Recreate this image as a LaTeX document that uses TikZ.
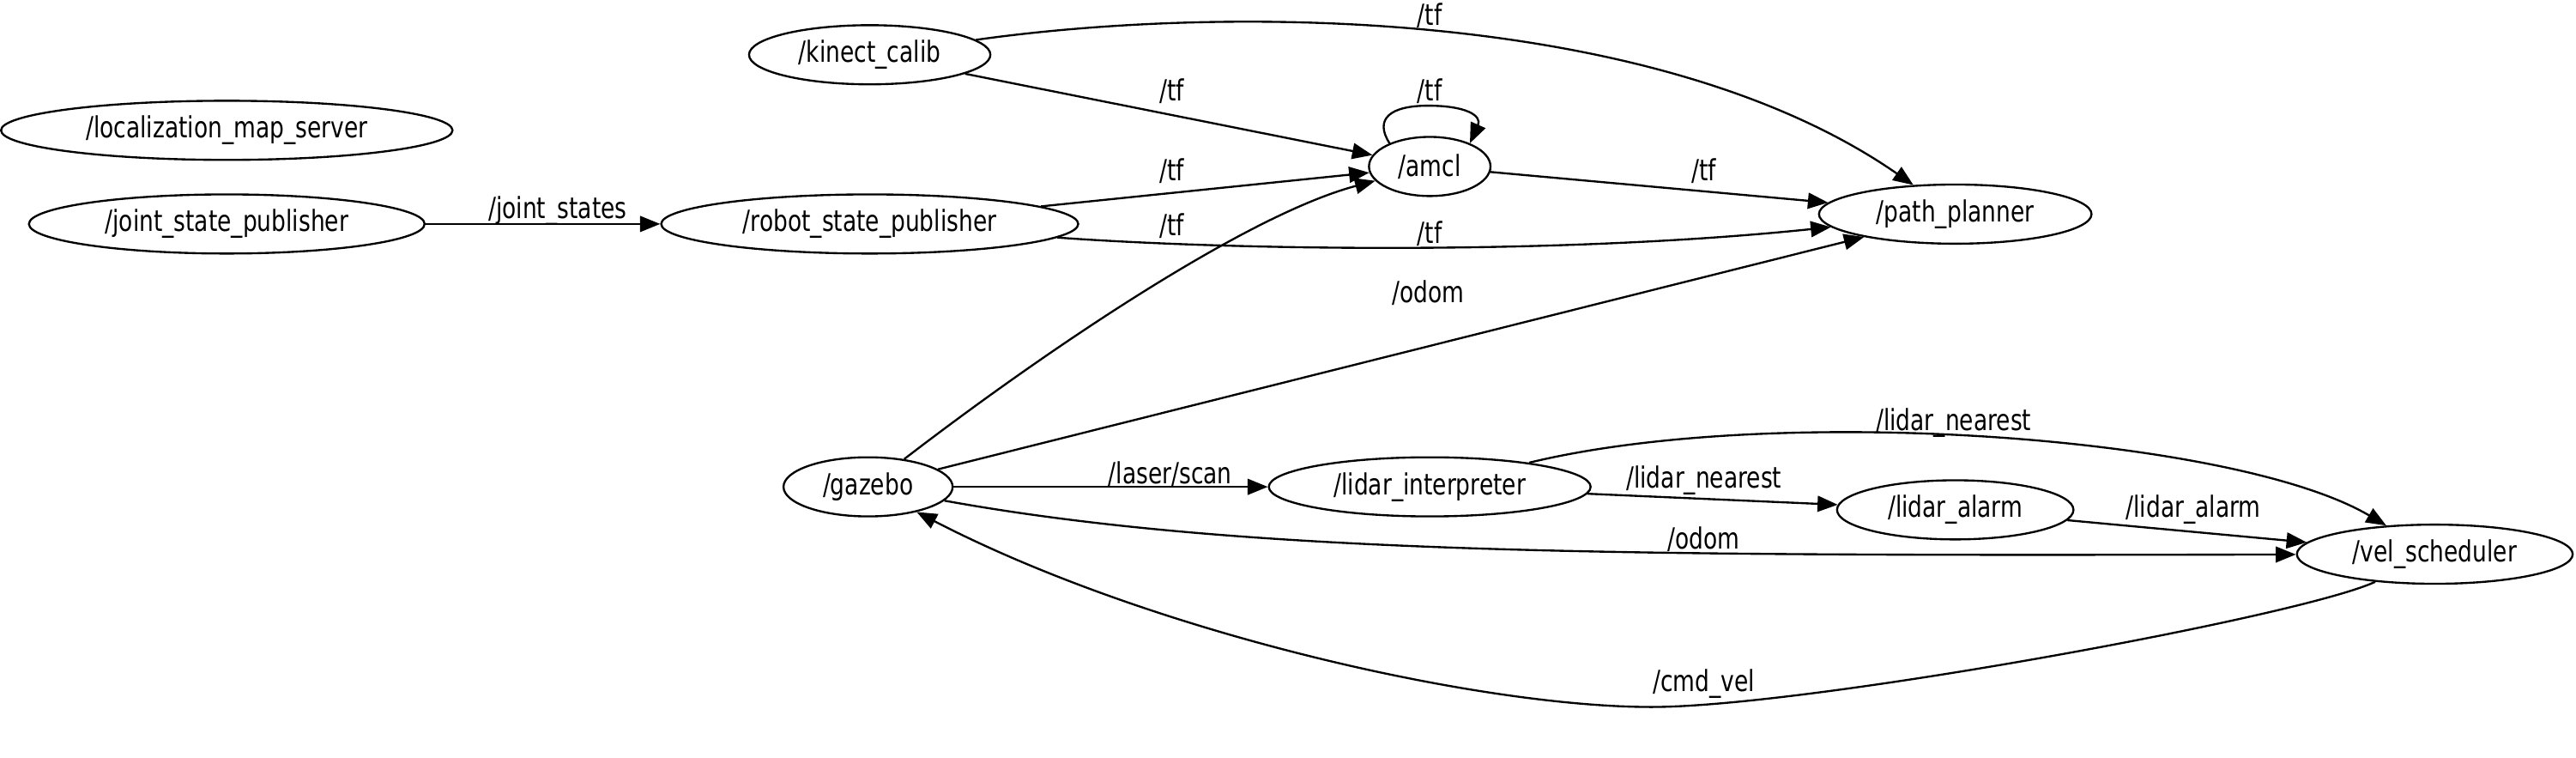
\documentclass[tikz,border=0pt]{standalone}
\usepackage{fontspec}
\setmainfont{DejaVu Sans}[FakeStretch=0.78]
\usetikzlibrary{shapes.geometric,arrows.meta}
\tikzset{
  rosnode/.style={draw,ellipse,line width=0.7pt,inner sep=0pt,minimum height=0.72cm},
  topic/.style={inner sep=1pt},
  edge/.style={line width=0.7pt,-{Triangle[length=7pt,width=5.5pt]}}
}

\begin{document}
\begin{tikzpicture}[x=0.02cm,y=-0.02cm,font=\fontsize{10.1}{12}\selectfont]
\path [fill=white] (0,0) rectangle (1568,461);
% nodes
\node [rosnode,minimum width=5.5cm] (lms) at (137.5,79) {/localization\_map\_server};
\node [rosnode,minimum width=4.82cm] (jsp) at (137.5,136) {/joint\_state\_publisher};
\node [rosnode,minimum width=5.08cm] (rsp) at (529,136) {/robot\_state\_publisher};
\node [rosnode,minimum width=2.94cm] (kc) at (529,33) {/kinect\_calib};
\node [rosnode,minimum width=1.48cm] (amcl) at (870,101) {/amcl};
\node [rosnode,minimum width=3.32cm] (pp) at (1190,130) {/path\_planner};
\node [rosnode,minimum width=2.06cm] (gz) at (528,296) {/gazebo};
\node [rosnode,minimum width=3.92cm] (li) at (870,296) {/lidar\_interpreter};
\node [rosnode,minimum width=2.88cm] (la) at (1190,310) {/lidar\_alarm};
\node [rosnode,minimum width=3.36cm] (vs) at (1482,337) {/vel\_scheduler};
% topics
\draw [edge] (jsp) -- (rsp);
\node [topic] (t-js) at (339,128) {/joint\_states};
\draw [edge] (kc) .. controls (750,2) and (1010,5) .. (pp);
\node [topic] (t-tf1) at (870,9) {/tf};
\draw [edge] (kc) -- (amcl);
\node [topic] (t-tf2) at (713,55) {/tf};
\draw [edge] (amcl.150) .. controls (836,72) and (846,64) .. (869,64) .. controls (892,64) and (902,70) .. (amcl.30);
\node [topic] (t-tf3) at (870,55) {/tf};
\draw [edge] (rsp) -- (amcl);
\node [topic] (t-tf4) at (713,104) {/tf};
\draw [edge] (amcl) -- (pp);
\node [topic] (t-tf5) at (1037,104) {/tf};
\draw [edge] (rsp) .. controls (750,152) and (950,155) .. (pp);
\node [topic] (t-tf6) at (713,137) {/tf};
\node [topic] (t-tf7) at (870,142) {/tf};
\draw [edge] (gz) .. controls (640,210) and (760,130) .. (amcl);
\draw [edge] (gz) -- (pp);
\node [topic] (t-od1) at (869,178) {/odom};
\draw [edge] (gz) -- (li);
\node [topic] (t-ls) at (712,288) {/laser/scan};
\draw [edge] (li) -- (la);
\node [topic] (t-ln1) at (1037,292) {/lidar\_nearest};
\draw [edge] (li) .. controls (1080,245) and (1360,265) .. (vs);
\node [topic] (t-ln2) at (1189,257) {/lidar\_nearest};
\draw [edge] (la) -- (vs);
\node [topic] (t-la) at (1335,310) {/lidar\_alarm};
\draw [edge] (gz) .. controls (760,338) and (1000,338) .. (vs);
\node [topic] (t-od2) at (1037,328) {/odom};
\draw [edge] (vs) .. controls (1400,375) and (1100,430) .. (1005,430) .. controls (900,430) and (700,385) .. (gz);
\node [topic] (t-cv) at (1037,416) {/cmd\_vel};
\end{tikzpicture}
\end{document}
